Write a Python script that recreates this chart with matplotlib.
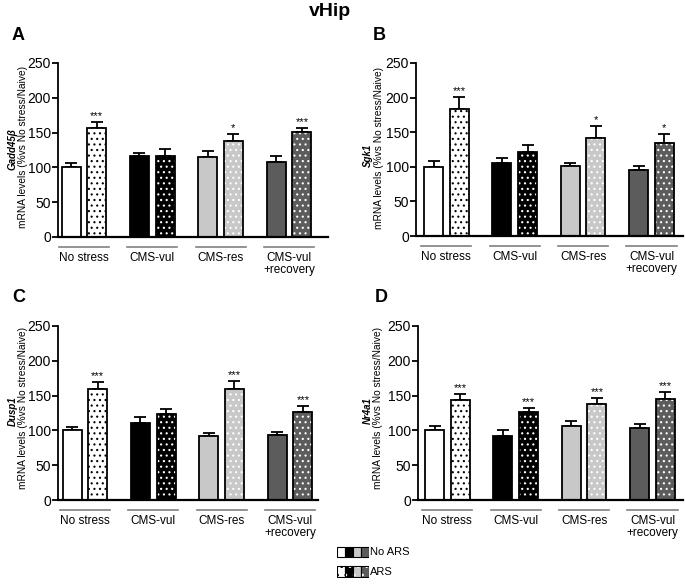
import matplotlib
matplotlib.use('Agg')
import matplotlib.pyplot as plt
from matplotlib.patches import Rectangle
import numpy as np

plt.rcParams['font.family'] = ['Liberation Sans', 'DejaVu Sans']
plt.rcParams['hatch.linewidth'] = 0.8

W, H = 685, 584

groups = ['No stress', 'CMS-vul', 'CMS-res', 'CMS-vul\n+recovery']
colors = ['white', 'black', '#c8c8c8', '#5c5c5c']
dot_colors = ['black', 'white', 'white', 'white']

letters = ['A', 'B', 'C', 'D']
genes = ['Gadd45β', 'Sgk1', 'Dusp1', 'Nr4a1']

# values (% vs No stress/Naive), No ARS then ARS
gadd_no = [100, 116, 115, 108]
gadd_no_err = [6, 4, 8, 8]
gadd_ars = [157, 116, 138, 151]
gadd_ars_err = [8, 10, 10, 6]
gadd_sig = ['***', '', '*', '***']

sgk_no = [100, 105, 101, 95]
sgk_no_err = [8, 7, 4, 6]
sgk_ars = [184, 121, 141, 135]
sgk_ars_err = [17, 11, 18, 13]
sgk_sig = ['***', '', '*', '*']

dusp_no = [100, 111, 92, 93]
dusp_no_err = [5, 8, 4, 5]
dusp_ars = [160, 123, 159, 126]
dusp_ars_err = [10, 8, 12, 9]
dusp_sig = ['***', '', '***', '***']

nr4_no = [100, 92, 106, 104]
nr4_no_err = [7, 8, 7, 5]
nr4_ars = [144, 127, 138, 145]
nr4_ars_err = [8, 5, 8, 10]
nr4_sig = ['***', '***', '***', '***']

no_vals = [gadd_no, sgk_no, dusp_no, nr4_no]
no_errs = [gadd_no_err, sgk_no_err, dusp_no_err, nr4_no_err]
ars_vals = [gadd_ars, sgk_ars, dusp_ars, nr4_ars]
ars_errs = [gadd_ars_err, sgk_ars_err, dusp_ars_err, nr4_ars_err]
sigs = [gadd_sig, sgk_sig, dusp_sig, nr4_sig]

# panel boxes in pixels (left, top, right, bottom) and first bar centre
boxes = [(58, 63, 328, 237), (416, 63, 683, 236), (58, 326, 318, 500), (418, 326, 683, 500)]
first_c = [71, 433.5, 72, 434.5]
unit = 19.0
letter_pos = [(12, 35), (373, 35), (12, 297), (375, 297)]
gene_pos = [(13, 149), (368, 155), (13, 411), (368, 411)]
ylab_pos = [(23, 147), (379, 148), (23, 408), (378, 408)]

fig = plt.figure(figsize=(W / 100, H / 100), dpi=100)

xl = np.arange(4) * 3.6
xr = xl + 1.35

for i in range(4):
    l, t, r, b = boxes[i]
    ax = fig.add_axes([l / W, 1 - b / H, (r - l) / W, (b - t) / H])
    for g in range(4):
        ax.bar(xl[g], no_vals[i][g], width=1, color=colors[g], edgecolor='black', linewidth=1.3, zorder=2)
        ax.bar(xr[g], ars_vals[i][g], width=1, color=colors[g], edgecolor=dot_colors[g],
               hatch='...', linewidth=0, zorder=2)
        ax.bar(xr[g], ars_vals[i][g], width=1, fill=False, edgecolor='black', linewidth=1.3, zorder=2.5)
    ax.errorbar(xl, no_vals[i], yerr=[np.zeros(4), no_errs[i]], fmt='none', ecolor='black',
                elinewidth=1.3, capsize=4, capthick=1.3, zorder=1)
    ax.errorbar(xr, ars_vals[i], yerr=[np.zeros(4), ars_errs[i]], fmt='none', ecolor='black',
                elinewidth=1.3, capsize=4, capthick=1.3, zorder=1)
    for g in range(4):
        if sigs[i][g]:
            ax.annotate(sigs[i][g], (xr[g], ars_vals[i][g] + ars_errs[i][g]), textcoords='offset pixels',
                        xytext=(0, 1), ha='center', va='bottom', fontsize=8)
        mid = (xl[g] + xr[g]) / 2
        ax.plot([mid - 1.32, mid + 1.32], [-0.055, -0.055], color='#808080', lw=1.2,
                transform=ax.get_xaxis_transform(), clip_on=False)
        ax.annotate(groups[g], (mid, 0), xycoords=('data', 'axes fraction'), textcoords='offset pixels',
                    xytext=(0, -15), ha='center', va='top', fontsize=8.5, linespacing=1.0)

    ax.set_xlim((l - first_c[i]) / unit, (r - first_c[i]) / unit)
    ax.set_ylim(0, 250)
    ax.set_yticks([0, 50, 100, 150, 200, 250])
    ax.set_xticks([])
    ax.tick_params(axis='y', labelsize=10, width=1.3, length=4, pad=1)
    for s in ['top', 'right']:
        ax.spines[s].set_visible(False)
    ax.spines['left'].set_linewidth(1.3)
    ax.spines['bottom'].set_linewidth(1.6)

    fig.text(letter_pos[i][0] / W, 1 - letter_pos[i][1] / H, letters[i], fontsize=13,
             fontweight='bold', ha='left', va='center')
    fig.text(gene_pos[i][0] / W, 1 - gene_pos[i][1] / H, genes[i], fontsize=7, fontweight='bold',
             fontstyle='italic', rotation=90, ha='center', va='center')
    fig.text(ylab_pos[i][0] / W, 1 - ylab_pos[i][1] / H, 'mRNA levels (%vs No stress/Naive)',
             fontsize=7.3, rotation=90, ha='center', va='center')

fig.text(330 / W, 1 - 12 / H, 'vHip', fontsize=14, fontweight='bold', ha='center', va='center')

# legend
lax = fig.add_axes([337 / W, 1 - 578 / H, 32 / W, 32 / H])
lax.set_xlim(0, 4)
lax.set_ylim(32, 0)
lax.axis('off')
for g in range(4):
    lax.add_patch(Rectangle((g, 1), 1, 10, facecolor=colors[g], edgecolor='black', lw=0.8))
    lax.add_patch(Rectangle((g, 20), 1, 11, facecolor=colors[g], edgecolor=dot_colors[g],
                            hatch='..', lw=0))
    lax.add_patch(Rectangle((g, 20), 1, 11, fill=False, edgecolor='black', lw=0.8))
fig.text(370 / W, 1 - 552 / H, 'No ARS', fontsize=8, ha='left', va='center')
fig.text(370 / W, 1 - 572 / H, 'ARS', fontsize=8, ha='left', va='center')

fig.savefig('out.png', dpi=100)
